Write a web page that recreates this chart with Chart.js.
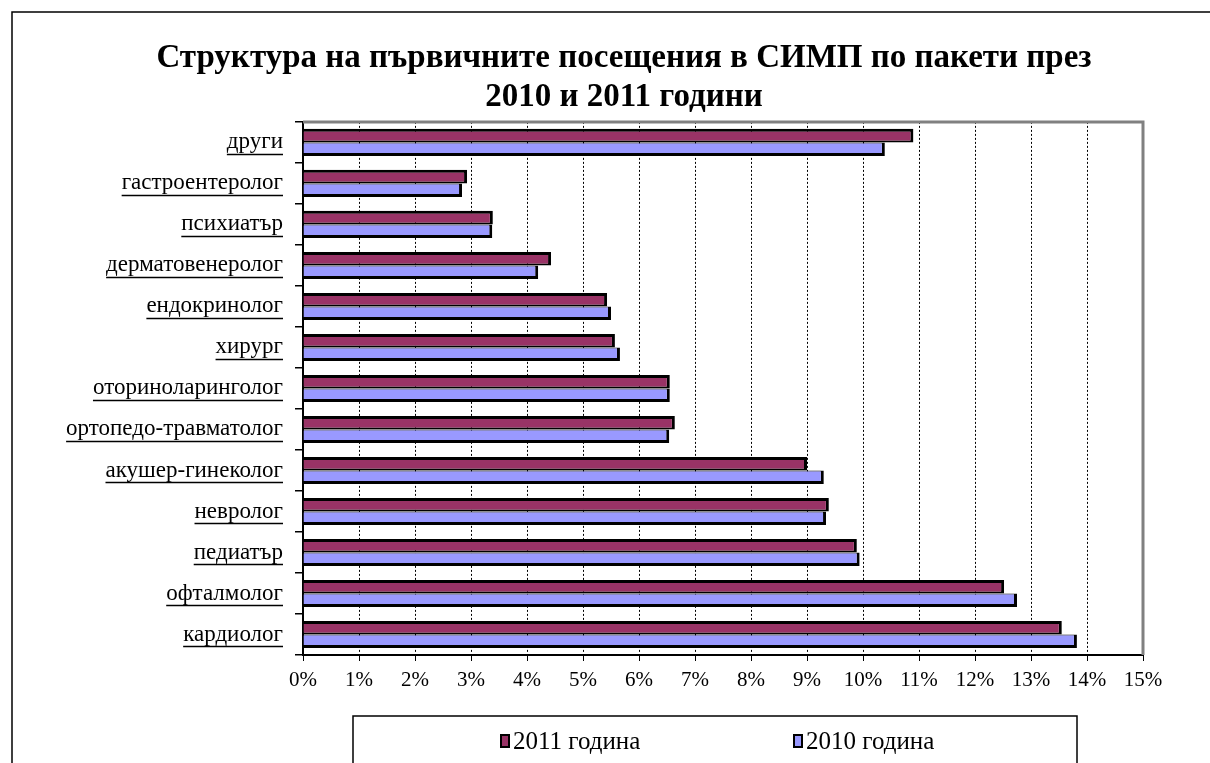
<!DOCTYPE html>
<html>
<head>
<meta charset="utf-8">
<script src="https://cdn.jsdelivr.net/npm/chart.js@4.4.1/dist/chart.umd.min.js"></script>
<style>
  html, body { margin: 0; padding: 0; background: #fff; }
  #wrap { position: relative; width: 1210px; height: 763px; }
</style>
</head>
<body>
<div id="wrap"><canvas id="chart" width="1210" height="763"></canvas></div>
<script>
// categories, top to bottom as in the original
const categories = [
    'други', 'гастроентеролог', 'психиатър', 'дерматовенеролог', 'ендокринолог',
    'хирург', 'оториноларинголог', 'ортопедо-травматолог', 'акушер-гинеколог',
    'невролог', 'педиатър', 'офталмолог', 'кардиолог'
];
// shares in percent
const values2011 = [10.9, 2.93, 3.39, 4.43, 5.43, 5.57, 6.55, 6.64, 9.0, 9.39, 9.89, 12.52, 13.55];
const values2010 = [10.39, 2.84, 3.38, 4.2, 5.5, 5.66, 6.55, 6.54, 9.3, 9.34, 9.94, 12.75, 13.82];
const seriesNames = ['2011 година', '2010 година'];
const titleLines = ['Структура на първичните посещения в СИМП по пакети през', '2010 и 2011 години'];

const serif = '"Liberation Serif", "DejaVu Serif", serif';
const labelSize = 23;

// frame, gray top/right plot edge, underlined labels, boxed legend
const decorations = {
    id: 'decorations',
    afterLayout(chart) {
        // centre the title over the right part like the original
        chart.titleBlock.left = 105;
        chart.titleBlock.right = 1143;
    },
    afterDraw(chart) {
        const ctx = chart.ctx;
        const area = chart.chartArea;
        ctx.save();

        // outer frame (left and top visible)
        ctx.strokeStyle = '#000';
        ctx.lineWidth = 1.5;
        ctx.strokeRect(12, 12, 1220, 800);

        // gray top and right edges of plot area
        ctx.strokeStyle = '#808080';
        ctx.lineWidth = 3;
        ctx.beginPath();
        ctx.moveTo(area.left, area.top);
        ctx.lineTo(area.right, area.top);
        ctx.lineTo(area.right, area.bottom);
        ctx.stroke();

        // underline category labels
        const y = chart.scales.y;
        ctx.font = labelSize + 'px ' + serif;
        ctx.strokeStyle = '#000';
        ctx.lineWidth = 1.5;
        const rightX = y.right - 20;
        categories.forEach((lab, i) => {
            const py = y.getPixelForTick(i);
            const w = ctx.measureText(lab).width;
            ctx.beginPath();
            ctx.moveTo(rightX - w, py + 12);
            ctx.lineTo(rightX, py + 12);
            ctx.stroke();
        });

        // legend box
        ctx.lineWidth = 1.5;
        ctx.strokeRect(353, 716, 724, 100);
        const items = [{ x: 501 }, { x: 794 }];
        ctx.font = '25px ' + serif;
        ctx.textBaseline = 'middle';
        ctx.textAlign = 'left';
        chart.data.datasets.forEach((ds, i) => {
            const mx = items[i].x;
            ctx.fillStyle = ds.backgroundColor;
            ctx.fillRect(mx, 735, 8, 12);
            ctx.strokeStyle = '#000';
            ctx.lineWidth = 2;
            ctx.strokeRect(mx, 735, 8, 12);
            ctx.fillStyle = '#000';
            ctx.fillText(ds.label, mx + 12, 742);
        });
        ctx.restore();
    }
};

const chart = new Chart(document.getElementById('chart').getContext('2d'), {
    type: 'bar',
    data: {
        labels: categories,
        datasets: [
            {
                label: seriesNames[0],
                data: values2011,
                backgroundColor: '#993366',
                borderColor: '#000',
                borderWidth: { top: 3, right: 3, bottom: 2, left: 0 },
                borderSkipped: 'start'
            },
            {
                label: seriesNames[1],
                data: values2010,
                backgroundColor: '#9999FF',
                borderColor: '#000',
                borderWidth: { top: 1, right: 3, bottom: 3, left: 0 },
                borderSkipped: 'start'
            }
        ]
    },
    options: {
        indexAxis: 'y',
        responsive: false,
        animation: false,
        datasets: {
            bar: { categoryPercentage: 0.66, barPercentage: 1 }
        },
        layout: { padding: { left: 12, right: 67, top: 0, bottom: 0 } },
        scales: {
            x: {
                min: 0,
                max: 15,
                ticks: {
                    stepSize: 1,
                    color: '#000',
                    padding: 7,
                    font: { family: serif, size: 21 },
                    callback: v => v + '%'
                },
                grid: {
                    color: '#000',
                    lineWidth: 1,
                    tickBorderDash: [],
                    tickLength: 6,
                    tickColor: '#000'
                },
                border: { display: true, color: '#000', width: 2, dash: [2, 2] },
                afterFit: s => { s.height = 108; }
            },
            y: {
                ticks: {
                    color: '#000',
                    padding: 12,
                    font: { family: serif, size: labelSize }
                },
                grid: {
                    drawOnChartArea: false,
                    offset: true,
                    tickLength: 8,
                    color: '#000',
                    lineWidth: 1.5
                },
                border: { display: true, color: '#000', width: 2 },
                afterFit: s => { s.width = 291; }
            }
        },
        plugins: {
            legend: { display: false },
            tooltip: { enabled: false },
            title: {
                display: true,
                text: titleLines,
                color: '#000',
                font: { family: serif, size: 33, weight: 'bold', lineHeight: 1.18 },
                padding: { top: 39, bottom: 5 }
            }
        }
    },
    plugins: [decorations]
});
</script>
</body>
</html>
